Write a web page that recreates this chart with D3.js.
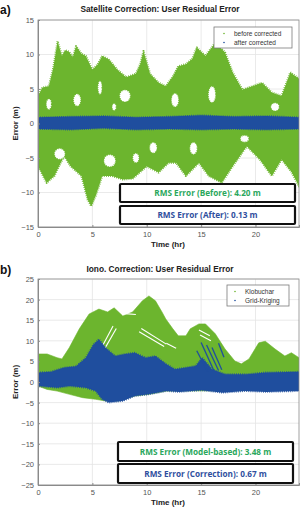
<!DOCTYPE html>
<html>
<head>
<meta charset="utf-8">
<script src="https://cdn.jsdelivr.net/npm/d3@7"></script>
<style>
  body { margin: 0; background: #fff; }
  svg { display: block; }
</style>
</head>
<body>
<div id="chart"></div>
<script>
// ---- data (hour, metres) ----
var xTicks = [0, 5, 10, 15, 20];
var satTicks = [-15, -10, -5, 0, 5, 10, 15];
var ionoTicks = [-25, -20, -15, -10, -5, 0, 5, 10, 15, 20, 25];

// (a) satellite correction, before corrected: upper / lower envelope
var satBeforeTop = [[0,4.0],[0.4,5.2],[1.0,5.4],[1.4,8.0],[1.8,11.9],[2.2,9.8],[2.5,10.6],[2.85,10.4],[3.2,9.6],[3.5,11.2],[4.0,10.1],[4.4,9.8],[5.0,7.8],[5.5,8.6],[5.9,9.8],[6.5,9.3],[7.3,7.8],[8.1,6.7],[9.0,7.2],[9.4,8.6],[9.7,10.5],[10.3,7.2],[11.1,5.9],[11.75,5.4],[12.4,6.8],[12.9,8.3],[13.6,8.6],[14.2,9.4],[14.6,11.0],[15.4,9.8],[16.3,11.7],[17.2,10.3],[17.9,7.4],[18.8,4.9],[19.7,5.4],[20.6,5.9],[21.5,4.5],[22.4,4.0],[23.2,7.4],[24,6.5]];
var satBeforeBottom = [[0,-6.2],[0.8,-8.6],[1.5,-7.6],[2.4,-4.7],[3.0,-6.2],[4.0,-7.6],[4.56,-11.0],[4.9,-12.0],[5.3,-10.5],[5.9,-7.6],[6.8,-7.6],[7.8,-8.1],[8.7,-8.0],[10.0,-6.2],[11.1,-7.1],[12.0,-5.7],[12.7,-5.7],[13.6,-7.6],[14.8,-5.7],[15.7,-7.6],[16.9,-8.6],[17.9,-6.2],[19.2,-3.3],[20.4,-5.2],[21.5,-7.6],[22.4,-5.2],[23.3,-7.0],[24,-9.1]];
// white gaps inside the green cloud: [hour, value, half-width hr, half-height m]
var satGaps = [[3.6,3.4,0.35,0.9],[5.7,5.2,0.2,1.0],[8.0,4.0,0.5,0.9],[7.0,2.4,0.2,0.5],[2.0,-4.4,0.5,0.8],[6.6,-5.4,0.55,0.9],[10.6,-3.5,0.35,0.8],[12.6,3.4,0.35,1.0],[16.0,4.2,0.35,1.2],[19.0,-2.2,0.4,0.5],[14.3,-3.6,0.35,0.9],[1.0,2.8,0.25,0.8],[21.8,2.4,0.4,0.6],[9.0,-5.0,0.3,0.7]];
// (a) after corrected
var satAfterTop = [[0,0.9],[3,1.0],[6,1.1],[9,0.9],[12,1.0],[15,1.2],[18,1.0],[21,1.1],[24,0.9]];
var satAfterBottom = [[0,-0.8],[3,-0.9],[6,-0.7],[9,-0.9],[12,-0.8],[15,-0.9],[18,-0.8],[21,-0.9],[24,-0.8]];

// (b) ionosphere correction, Klobuchar envelope
var ionoKloTop = [[0,6.8],[0.84,6.8],[1.76,5.9],[2.2,5.6],[2.87,8.3],[3.8,12.9],[4.7,16.5],[5.6,17.7],[6.4,17.0],[7.0,18.0],[7.8,16.0],[8.7,17.0],[9.6,19.7],[10.2,20.9],[10.8,19.7],[11.4,17.0],[11.75,15.3],[12.4,12.9],[12.9,11.2],[13.6,11.2],[14.0,12.9],[14.8,14.1],[15.4,14.1],[16.3,11.7],[17.2,8.0],[18.1,5.1],[18.7,4.4],[19.4,5.6],[20.3,9.5],[20.9,9.9],[21.8,8.0],[22.7,6.3],[23.3,7.1],[24,5.9]];
var ionoKloBottom = [[0,-1.0],[0.84,-1.8],[1.76,-2.2],[2.9,-3.0],[4.1,-3.8],[5.3,-4.2],[6.2,-4.6],[7.4,-4.6],[8.9,-3.4],[10.2,-3.0],[11.8,-2.2],[24,-2.0]];
// white streaks in the Klobuchar cloud: [h0, v0, h1, v1]
var ionoKloGaps = [[5.9,8.6,6.9,13.6],[6.2,8.4,7.2,13.0],[9.5,13.0,11.8,9.2],[9.3,12.2,11.6,8.6],[11.8,9.4,12.7,8.2],[8.0,16.6,9.0,16.4],[14.8,12.6,15.8,11.2],[14.9,11.4,15.9,10.0]];
// Grid-Kriging envelope
var ionoGkTop = [[0,2.3],[1.2,2.5],[2.4,3.5],[3.5,3.8],[4.4,5.9],[5.1,9.1],[5.6,10.4],[6.2,8.3],[7.1,6.3],[8.0,6.8],[8.9,7.1],[9.9,5.9],[10.8,6.3],[11.75,4.4],[12.6,3.1],[13.6,3.5],[14.5,3.9],[15.1,5.9],[16.0,3.1],[17.2,1.9],[19.2,1.9],[20.9,2.3],[24,2.5]];
var ionoGkBottom = [[0,-1.0],[1.8,-1.4],[2.9,-1.0],[4.4,-1.4],[5.3,-2.2],[5.9,-4.2],[6.5,-5.0],[7.8,-4.6],[8.9,-3.4],[10.2,-3.0],[11.8,-2.2],[13.0,-2.4],[15.0,-2.0],[17.0,-2.6],[19.0,-2.2],[21.0,-2.4],[24,-2.2]];
// blue streaks above the Grid-Kriging band: [h0, v0, h1, v1]
var ionoGkStreaks = [[15.0,9.6,16.2,2.6],[15.5,9.0,16.6,2.8],[16.0,8.4,16.9,3.0],[14.6,7.6,15.6,2.5],[16.6,9.4,17.1,6.0]];

var rmsSat = ["RMS Error (Before): 4.20 m", "RMS Error (After): 0.13 m"];
var rmsIono = ["RMS Error (Model-based): 3.48 m", "RMS Error (Correction): 0.67 m"];
var legendSat = ["before corrected", "after corrected"];
var legendIono = ["Klobuchar", "Grid-Kriging"];

var GREEN = "#6cb52e", BLUE = "#1f4e9e";
var TXT_GREEN = "#2aa75c", TXT_BLUE = "#2f4f9e";

var svg = d3.select("#chart").append("svg")
  .attr("width", 301)
  .attr("height", 509);

var font = "'Liberation Sans', Arial, sans-serif";

function panel(opt) {
  var x = d3.scaleLinear().domain([0, 24]).range([38, 299]);
  var y = d3.scaleLinear().domain(opt.domain).range(opt.range);
  var g = svg.append("g");
  var clipId = "clip" + opt.tag;
  g.append("clipPath").attr("id", clipId)
    .append("rect")
    .attr("x", x(0)).attr("y", y(opt.domain[1]))
    .attr("width", x(24) - x(0)).attr("height", y(opt.domain[0]) - y(opt.domain[1]));

  // grid
  g.append("g").selectAll("line").data(opt.ticks).join("line")
    .attr("x1", x(0)).attr("x2", x(24))
    .attr("y1", d => y(d)).attr("y2", d => y(d))
    .attr("stroke", "#e4e4e4").attr("stroke-width", 0.8);
  g.append("g").selectAll("line").data(xTicks).join("line")
    .attr("x1", d => x(d)).attr("x2", d => x(d))
    .attr("y1", y(opt.domain[0])).attr("y2", y(opt.domain[1]))
    .attr("stroke", "#e4e4e4").attr("stroke-width", 0.8);

  var plot = g.append("g").attr("clip-path", "url(#" + clipId + ")");

  function band(top, bottom) {
    var pts = top.concat(bottom.slice().reverse());
    return d3.line().x(d => x(d[0])).y(d => y(d[1]))(pts) + "Z";
  }

  opt.draw(plot, x, y, band);

  // axes
  var ax = d3.axisBottom(x).tickValues(xTicks).tickSize(-2).tickPadding(5);
  var gx = g.append("g").attr("transform", `translate(0,${y(opt.domain[0])})`).call(ax);
  var ay = d3.axisLeft(y).tickValues(opt.ticks).tickSize(-2).tickPadding(4);
  var gy = g.append("g").attr("transform", `translate(${x(0)},0)`).call(ay);
  [gx, gy].forEach(function(a) {
    a.select(".domain").attr("stroke", "#8a8a8a");
    a.selectAll(".tick line").attr("stroke", "#8a8a8a");
    a.selectAll("text").attr("fill", "#555").style("font-family", font).style("font-size", "7.5px");
  });
  // box
  g.append("rect")
    .attr("x", x(0)).attr("y", y(opt.domain[1]))
    .attr("width", x(24) - x(0)).attr("height", y(opt.domain[0]) - y(opt.domain[1]))
    .attr("fill", "none").attr("stroke", "#8a8a8a").attr("stroke-width", 0.8);

  // titles
  g.append("text").attr("x", 160).attr("y", opt.titleY)
    .attr("text-anchor", "middle").style("font-family", font)
    .style("font-size", "8.3px").style("font-weight", "bold").attr("fill", "#222")
    .text(opt.title);
  g.append("text").attr("x", 0).attr("y", opt.titleY + 2)
    .style("font-family", font).style("font-size", "12px").style("font-weight", "bold")
    .attr("fill", "#111").text(opt.tag + ")");
  g.append("text").attr("x", 168).attr("y", y(opt.domain[0]) + 20)
    .attr("text-anchor", "middle").style("font-family", font)
    .style("font-size", "8px").style("font-weight", "bold").attr("fill", "#222")
    .text("Time (hr)");
  var midY = (y(opt.domain[0]) + y(opt.domain[1])) / 2;
  g.append("text")
    .attr("transform", `translate(18,${midY}) rotate(-90)`)
    .attr("text-anchor", "middle").style("font-family", font)
    .style("font-size", "8px").style("font-weight", "bold").attr("fill", "#222")
    .text("Error (m)");

  // legend
  var lg = g.append("g").attr("transform", `translate(${opt.legend[0]},${opt.legend[1]})`);
  lg.append("rect").attr("width", opt.legend[2]).attr("height", 21)
    .attr("fill", "#fff").attr("stroke", "#7a7a7a").attr("stroke-width", 0.8);
  opt.legendText.forEach(function(t, i) {
    lg.append("circle").attr("cx", opt.legend[3]).attr("cy", 6.5 + i * 9).attr("r", 0.8)
      .attr("fill", i === 0 ? GREEN : BLUE);
    lg.append("text").attr("x", opt.legend[3] + 10).attr("y", 9 + i * 9)
      .style("font-family", font).style("font-size", "6.5px").attr("fill", "#333")
      .text(t);
  });

  // rms boxes
  opt.rms.forEach(function(t, i) {
    var bx = opt.box[0], by = opt.box[1] + i * opt.box[3], bw = opt.box[2], bh = opt.box[4];
    g.append("rect").attr("x", bx).attr("y", by).attr("width", bw).attr("height", bh)
      .attr("rx", 1)
      .attr("fill", "#fff").attr("stroke", "#111").attr("stroke-width", 2.2);
    g.append("text").attr("x", bx + bw / 2).attr("y", by + bh / 2 + 3)
      .attr("text-anchor", "middle")
      .style("font-family", "'Open Sans', 'Noto Sans', sans-serif")
      .style("font-size", "8.2px").style("font-weight", "bold")
      .attr("fill", i === 0 ? TXT_GREEN : TXT_BLUE)
      .text(t);
  });
}

// ragged edge for the dense point clouds
function rough(sel, color, w) {
  return sel.attr("stroke", color).attr("stroke-width", w)
    .attr("stroke-dasharray", "0.8 1.3").attr("stroke-linejoin", "round");
}

panel({
  tag: "a",
  domain: [-15, 15], range: [227, 20], ticks: satTicks,
  title: "Satellite  Correction: User Residual Error", titleY: 12,
  legend: [214, 27, 78, 10], legendText: legendSat,
  box: [120, 184, 175, 22, 18], rms: rmsSat,
  draw: function(p, x, y, band) {
    rough(p.append("path").attr("d", band(satBeforeTop, satBeforeBottom)).attr("fill", GREEN), GREEN, 2.2);
    rough(p.selectAll("ellipse.gap").data(satGaps).join("ellipse").attr("class", "gap")
      .attr("cx", d => x(d[0])).attr("cy", d => y(d[1]))
      .attr("rx", d => x(d[2]) - x(0)).attr("ry", d => y(0) - y(d[3]))
      .attr("fill", "#fff"), GREEN, 1.4);
    rough(p.append("path").attr("d", band(satAfterTop, satAfterBottom)).attr("fill", BLUE), BLUE, 1.6);
  }
});

panel({
  tag: "b",
  domain: [-25, 25], range: [485, 279], ticks: ionoTicks,
  title: "Iono. Correction: User Residual Error", titleY: 272,
  legend: [227, 285, 62, 8], legendText: legendIono,
  box: [118, 442, 175, 22, 19], rms: rmsIono,
  draw: function(p, x, y, band) {
    p.append("path").attr("d", band(ionoKloTop, ionoKloBottom)).attr("fill", GREEN)
      .attr("stroke", GREEN).attr("stroke-width", 0.6);
    p.selectAll("line.gap").data(ionoKloGaps).join("line").attr("class", "gap")
      .attr("x1", d => x(d[0])).attr("y1", d => y(d[1]))
      .attr("x2", d => x(d[2])).attr("y2", d => y(d[3]))
      .attr("stroke", "#fff").attr("stroke-width", 1.1);
    rough(p.append("path").attr("d", band(ionoGkTop, ionoGkBottom)).attr("fill", BLUE), BLUE, 1.8);
    p.selectAll("line.streak").data(ionoGkStreaks).join("line").attr("class", "streak")
      .attr("x1", d => x(d[0])).attr("y1", d => y(d[1]))
      .attr("x2", d => x(d[2])).attr("y2", d => y(d[3]))
      .attr("stroke", BLUE).attr("stroke-width", 1.3);
  }
});
</script>
</body>
</html>
